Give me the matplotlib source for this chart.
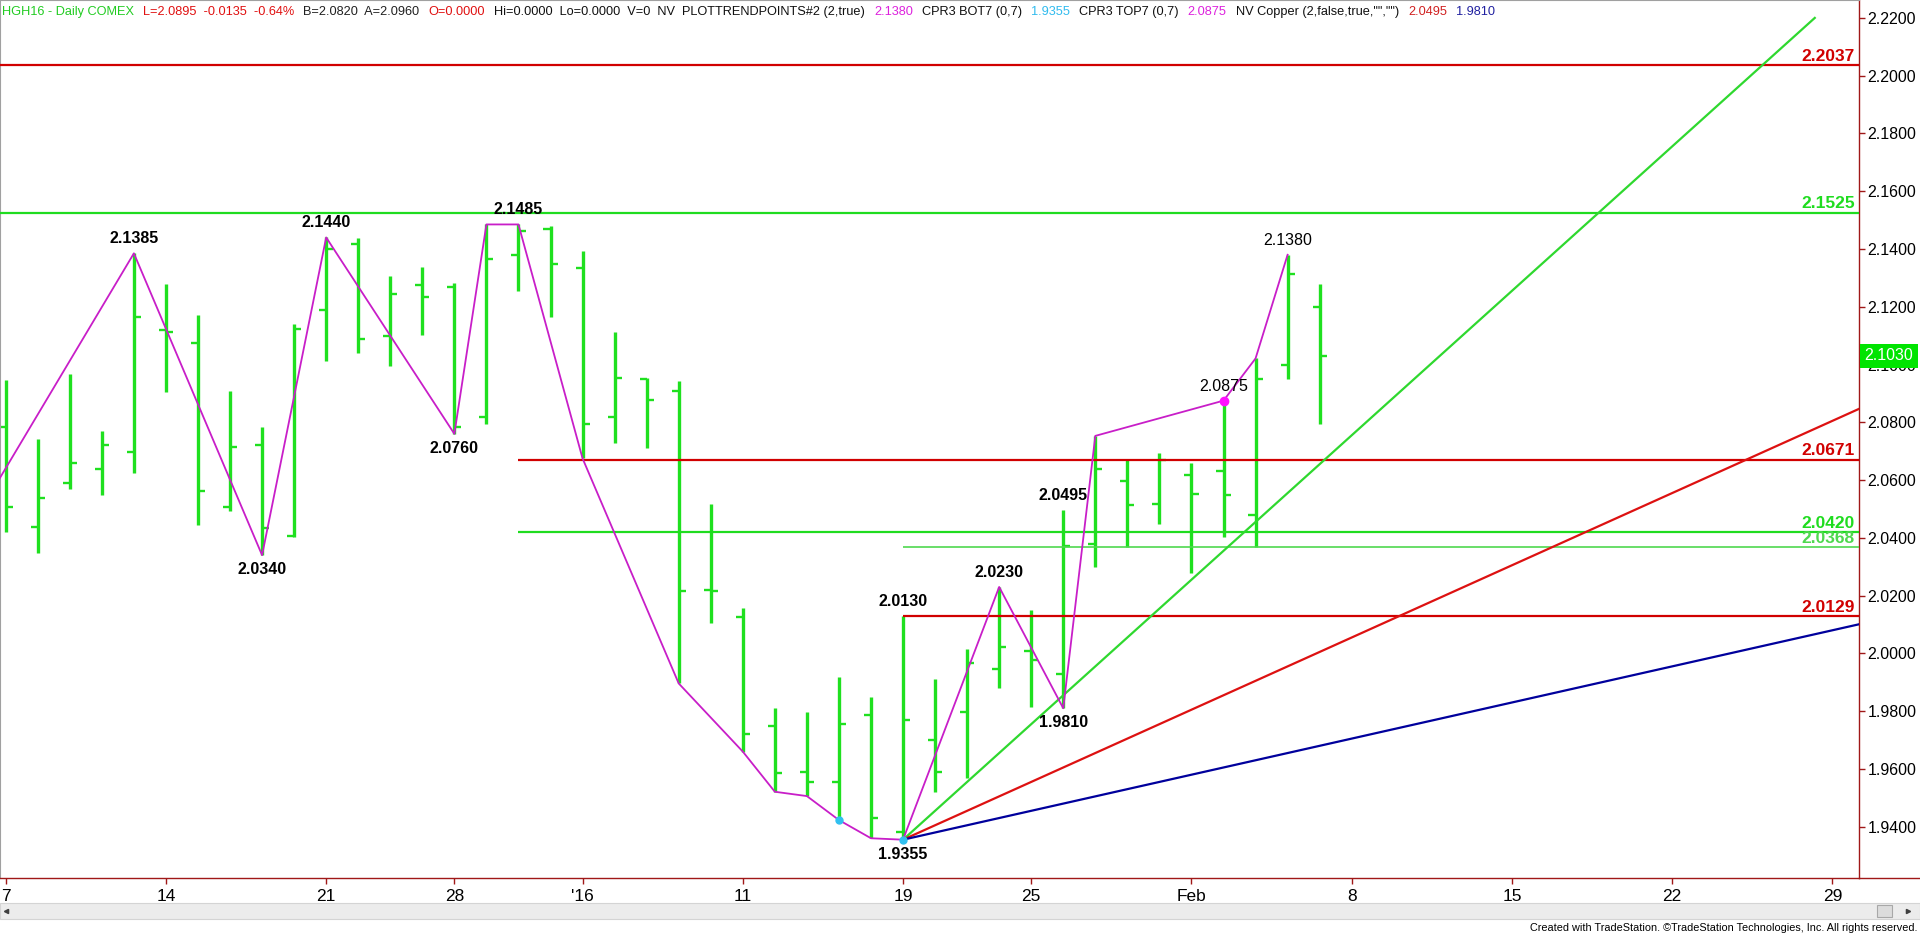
import matplotlib
matplotlib.use("Agg")
import matplotlib.pyplot as plt
from matplotlib import font_manager
from matplotlib.lines import Line2D
from matplotlib.patches import Rectangle
import numpy as np

# daily bars, Dec 7 2015 .. Feb 5 2016 (trading days only)
opens = [2.0783, 2.0436, 2.0591, 2.0637, 2.0696, 2.1120, 2.1073, 2.0506, 2.0720, 2.0406,
         2.1189, 2.1416, 2.1100, 2.1274, 2.1267, 2.0819, 2.1379, 2.1468, 2.1333, 2.0819,
         2.0949, 2.0908, 2.0219, 2.0125, 1.9749, 1.9591, 1.9556, 1.9787, 1.9383, 1.9700,
         1.9798, 1.9945, 2.0009, 1.9929, 2.0379, 2.0597, 2.0517, 2.0618, 2.0631, 2.0479,
         2.0998, 2.1200]
highs = [2.0947, 2.0741, 2.0967, 2.0769, 2.1385, 2.1278, 2.1170, 2.0908, 2.0785, 2.1139,
         2.1440, 2.1437, 2.1307, 2.1337, 2.1281, 2.1485, 2.1485, 2.1480, 2.1394, 2.1114,
         2.0952, 2.0944, 2.0517, 2.0156, 1.9810, 1.9798, 1.9919, 1.9848, 2.0130, 1.9910,
         2.0014, 2.0230, 2.0150, 2.0495, 2.0753, 2.0672, 2.0695, 2.0660, 2.0875, 2.1021,
         2.1380, 2.1279]
lows = [2.0421, 2.0346, 2.0568, 2.0547, 2.0623, 2.0904, 2.0444, 2.0493, 2.0340, 2.0404,
        2.1013, 2.1041, 2.0996, 2.1102, 2.0760, 2.0793, 2.1255, 2.1163, 2.0675, 2.0727,
        2.0710, 1.9896, 2.0104, 1.9660, 1.9521, 1.9506, 1.9423, 1.9360, 1.9355, 1.9521,
        1.9567, 1.9879, 1.9815, 1.9810, 2.0300, 2.0369, 2.0448, 2.0277, 2.0402, 2.0367,
        2.0949, 2.0794]
closes = [2.0506, 2.0537, 2.0658, 2.0720, 2.1163, 2.1111, 2.0562, 2.0714, 2.0433, 2.1123,
          2.1399, 2.1087, 2.1243, 2.1235, 2.0785, 2.1364, 2.1462, 2.1348, 2.0793, 2.0952,
          2.0877, 2.0216, 2.0216, 1.9720, 1.9585, 1.9556, 1.9754, 1.9429, 1.9771, 1.9591,
          1.9966, 2.0023, 1.9977, 2.0372, 2.0637, 2.0513, 2.0669, 2.0551, 2.0547, 2.0949,
          2.1313, 2.1030]
last_price = 2.1030

# date axis (bar index -> label)
tick_pos = [0, 5, 10, 14, 18, 23, 28, 32, 37, 42, 47, 52, 57]
tick_labels = ["7", "14", "21", "28", "'16", "11", "19", "25", "Feb", "8", "15", "22", "29"]
price_ticks = [1.94, 1.96, 1.98, 2.00, 2.02, 2.04, 2.06, 2.08, 2.10, 2.12, 2.14, 2.16, 2.18, 2.20, 2.22]

# swing line (plot trend points)
zz_x = [-1, 4, 8, 10, 14, 15, 16, 18, 21, 23, 24, 25, 26, 27, 28, 31, 33, 34, 38, 39, 40]
zz_y = [2.0455, 2.1385, 2.0340, 2.1440, 2.0760, 2.1485, 2.1485, 2.0675, 1.9896, 1.9660,
        1.9521, 1.9506, 1.9423, 1.9360, 1.9355, 2.0230, 1.9810, 2.0753, 2.0875, 2.1021, 2.1380]

# pivot labels
piv_x = [4, 8, 10, 14, 16, 28, 28, 31, 33, 33, 38, 40]
piv_y = [2.1385, 2.0340, 2.1440, 2.0760, 2.1485, 2.0130, 1.9355, 2.0230, 1.9810, 2.0495, 2.0875, 2.1380]
piv_up = [True, False, True, False, True, True, False, True, False, True, True, True]
piv_bold = [True, True, True, True, True, True, True, True, True, True, False, False]

# horizontal levels
levels = [2.2037, 2.1525, 2.0671, 2.0420, 2.0368, 2.0129]
level_start = [-1, -1, 16, 16, 28, 28]
level_colors = ["#d10000", "#1fdc1f", "#d10000", "#1fdc1f", "#4fd84f", "#d10000"]

# gann fan from the 1.9355 low
fan_x0, fan_y0 = 28, 1.9355
fan_slopes = [0.01, 0.005, 0.0025]
fan_end = [56.45, 60, 60]
fan_colors = ["#2fd82f", "#dd1111", "#00009c"]

names = {f.name for f in font_manager.fontManager.ttflist}
narrow = "Liberation Sans Narrow" if "Liberation Sans Narrow" in names else "Liberation Sans"
plt.rcParams["font.family"] = ["Liberation Sans", "DejaVu Sans"]

W, H = 1920, 934
fig = plt.figure(figsize=(W / 100, H / 100), dpi=100)
fig.patch.set_facecolor("white")
ax = fig.add_axes([0, 56 / H, 1859 / W, 878 / H])

bar_green = "#1fe01f"
x = np.arange(len(opens))
ax.vlines(x, lows, highs, color=bar_green, lw=2.4, zorder=2)
ax.hlines(opens, x - 0.22, x, color=bar_green, lw=1.7, zorder=2)
ax.hlines(closes, x, x + 0.22, color=bar_green, lw=1.7, zorder=2)

for lv, st, c in zip(levels, level_start, level_colors):
    lw = 1.2 if lv == 2.0368 else 1.6
    ax.hlines(lv, st, 60, color=c, lw=lw, zorder=3)
    ax.annotate(f"{lv:.4f}", xy=(1.0, lv), xycoords=ax.get_yaxis_transform(),
                xytext=(-3, 1), textcoords="offset points", ha="right", va="bottom",
                fontsize=12.5, fontweight="bold", color=c, zorder=6)

for s, e, c in zip(fan_slopes, fan_end, fan_colors):
    ax.plot([fan_x0, e], [fan_y0, fan_y0 + s * (e - fan_x0)], color=c, lw=1.6, zorder=3)

ax.plot(zz_x, zz_y, color="#c81ec8", lw=1.3, zorder=4)
ax.plot([38], [2.0875], "o", color="#ff10ff", ms=6, zorder=5)
ax.plot([26, 28], [1.9423, 1.9355], "o", color="#30c0f0", ms=5, zorder=5)

for px, py, up, b in zip(piv_x, piv_y, piv_up, piv_bold):
    ax.annotate(f"{py:.4f}", xy=(px, py), xytext=(0, 5 if up else -5), textcoords="offset points",
                ha="center", va="bottom" if up else "top", fontsize=11.5,
                fontweight="bold" if b else "normal", color="black", zorder=6)

ax.set_xlim(-0.178, 57.83)
ax.set_ylim(1.92224, 2.2262)

ax.yaxis.tick_right()
ax.set_yticks(price_ticks, [f"{t:.4f}" for t in price_ticks])
ax.tick_params(axis="y", direction="out", length=4, width=1, color="#a01818", pad=2,
               labelsize=11.5, labelcolor="black")
ax.set_xticks(tick_pos, tick_labels)
ax.tick_params(axis="x", direction="out", length=4, width=1, color="#a01818", pad=4,
               labelsize=12.5)
for lab in ax.get_xticklabels():
    lab.set_family(narrow)

for side in ["right", "bottom"]:
    ax.spines[side].set_color("#a01818")
    ax.spines[side].set_linewidth(1)
ax.spines["left"].set_color("#a0a0a0")
ax.spines["top"].set_color("#a0a0a0")

# current price box (covers the 2.1000 scale label like the original)
ax.text(1.003, last_price, f"{last_price:.4f}", transform=ax.get_yaxis_transform(),
        ha="left", va="center", color="white", fontsize=11.5, clip_on=False,
        bbox=dict(boxstyle="square,pad=0.3", fc="#00e400", ec="none"), zorder=7)

# axis line continues under price scale
fig.add_artist(Line2D([1859 / W, 1], [56 / H, 56 / H], color="#a01818", lw=1))

# scroll bar
fig.add_artist(Rectangle((0, (H - 919) / H), 1, 16 / H, transform=fig.transFigure,
                         fc="#ececec", ec="#d4d4d4", lw=0.8))
fig.add_artist(Rectangle((1877 / W, (H - 917) / H), 15 / W, 12 / H, transform=fig.transFigure,
                         fc="#dcdcdc", ec="#a8a8a8", lw=0.8))
fig.add_artist(Line2D([1908 / W], [(H - 911) / H], marker=">", ms=3, color="#404040"))
fig.add_artist(Line2D([6 / W], [(H - 911) / H], marker="<", ms=3, color="#404040"))

fig.text(1917 / W, (H - 928) / H,
         "Created with TradeStation. \u00a9TradeStation Technologies, Inc. All rights reserved.",
         ha="right", va="center", fontsize=7.8, family=narrow, color="black")

# header line
header = [
    ("HGH16 - Daily COMEX", "#22cc22"),
    ("L=2.0895  -0.0135  -0.64%", "#e01010"),
    ("B=2.0820  A=2.0960", "#202020"),
    ("O=0.0000", "#e01010"),
    ("Hi=0.0000  Lo=0.0000  V=0  NV  PLOTTRENDPOINTS#2 (2,true)", "#101010"),
    ("2.1380", "#dd22dd"),
    ("CPR3 BOT7 (0,7)", "#101010"),
    ("1.9355", "#30bbee"),
    ("CPR3 TOP7 (0,7)", "#101010"),
    ("2.0875", "#dd22dd"),
    ('NV Copper (2,false,true,"","")', "#101010"),
    ("2.0495", "#d02020"),
    ("1.9810", "#2020a0"),
]
hsize = 11.5 if narrow != "Liberation Sans" else 9.15
prev = fig.text(2 / W, 1 - 18 / H, header[0][0], color=header[0][1], fontsize=hsize,
                family=narrow, va="bottom", ha="left")
for txt, col in header[1:]:
    prev = ax.annotate(txt, xy=(1, 0), xycoords=prev, xytext=(6.5, 0), textcoords="offset points",
                       va="bottom", ha="left", color=col, fontsize=hsize, family=narrow,
                       annotation_clip=False)

fig.savefig("out.png", dpi=100)
